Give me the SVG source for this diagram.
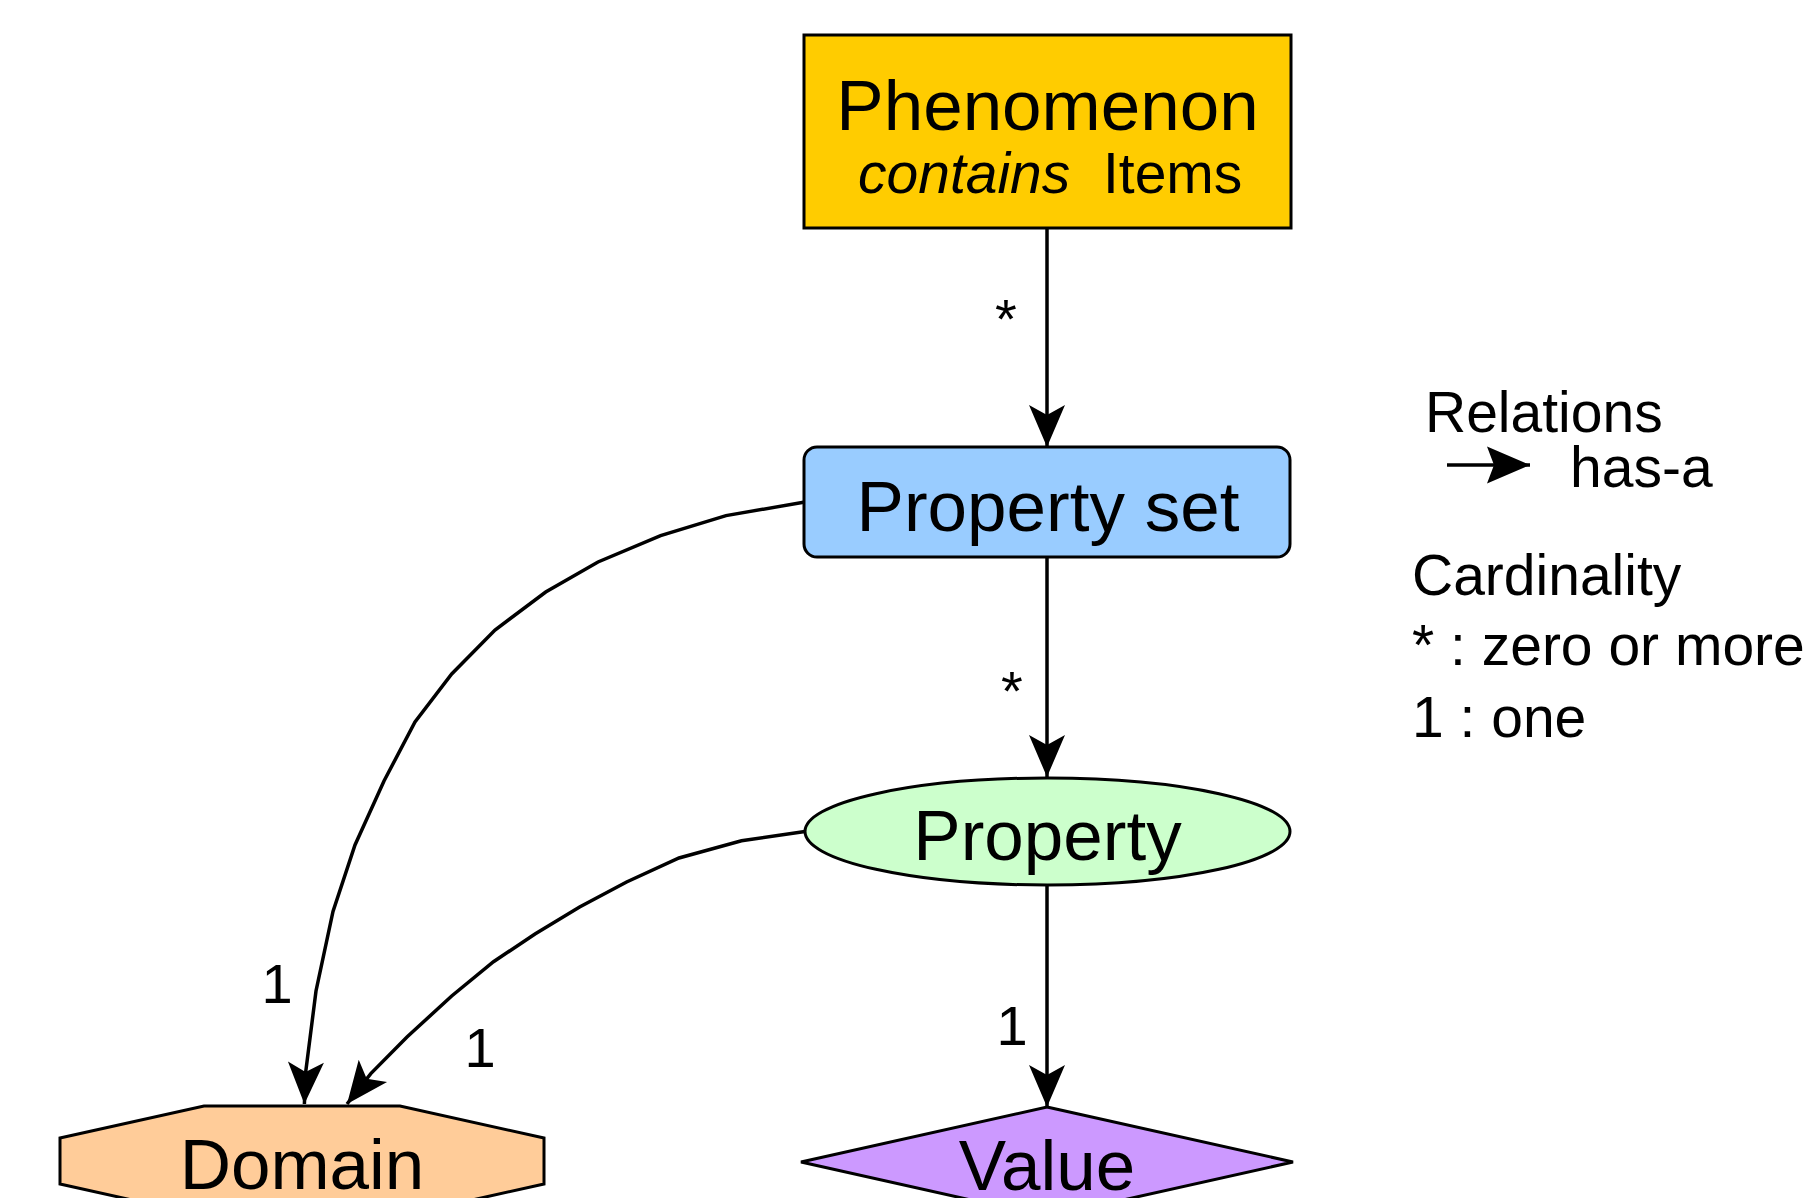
<svg xmlns="http://www.w3.org/2000/svg" width="1811" height="1198" viewBox="0 0 1811 1198">
<style>
text{font-family:"Liberation Sans",Arial,sans-serif;fill:#000}
.node{stroke:#000;stroke-width:3}
.lbl{font-size:71px;text-anchor:middle}
.card{font-size:56px;text-anchor:middle}
.leg{font-size:57px}
.edge{fill:none;stroke:#000;stroke-width:3.5;marker-end:url(#arr)}
</style>
<defs>
<marker id="arr" markerUnits="userSpaceOnUse" markerWidth="50" markerHeight="42" refX="44" refY="20" orient="auto">
<path d="M2,2 L44,20 L2,38 L12,20 Z" fill="#000"/>
</marker>
<marker id="arrl" markerUnits="userSpaceOnUse" markerWidth="50" markerHeight="42" refX="44" refY="20" orient="auto">
<path d="M1,1.5 L44,20 L1,38.5 L8,20 Z" fill="#000"/>
</marker>
</defs>
<g id="edges">
<path class="edge" d="M1047,228 V447"/>
<path class="edge" d="M1047,557 V777"/>
<path class="edge" d="M1047,885 V1107"/>
<path class="edge" d="M805,502 L726,515.6 L660.6,535.7 L598,562 L545.7,592 L495,630 L451.7,674 L415,722 L384,781 L355,845 L333,911.5 L316,991 L305.5,1073.6 L304.4,1104"/>
<path class="edge" d="M805,831.6 L741.5,840.7 L679,858 L626.6,882 L579.6,907 L535,934 L493.5,961.7 L451.7,996 L407,1037 L370.8,1073.6 L347,1104"/>
<text class="card" x="1006" y="338">*</text>
<text class="card" x="1012" y="710">*</text>
<text class="card" x="1012" y="1045">1</text>
<text class="card" x="277" y="1003">1</text>
<text class="card" x="480" y="1067">1</text>
</g>
<g id="phenomenon">
<rect class="node" x="804" y="35" width="487" height="193" fill="#FFCC00"/>
<text class="lbl" x="1047.5" y="130">Phenomenon</text>
<text style="font-size:57px;font-style:italic" x="858" y="193">contains</text>
<text style="font-size:57px" x="1103" y="193">Items</text>
</g>
<g id="property-set">
<rect class="node" x="804" y="447" width="486" height="110" rx="13" fill="#99CCFF"/>
<text class="lbl" x="1048" y="531">Property set</text>
</g>
<g id="property">
<ellipse class="node" cx="1047.5" cy="831.5" rx="242.5" ry="53.5" fill="#CCFFCC"/>
<text class="lbl" x="1047.5" y="860">Property</text>
</g>
<g id="domain">
<polygon class="node" points="204,1106 400,1106 544,1138 544,1184 400,1216 204,1216 60,1184 60,1138" fill="#FFCC99"/>
<text class="lbl" x="302" y="1189">Domain</text>
</g>
<g id="value">
<polygon class="node" points="1047,1107 1293,1162 1047,1217 801,1162" fill="#CC99FF"/>
<text class="lbl" x="1047" y="1190">Value</text>
</g>
<g id="legend">
<text class="leg" x="1425" y="432">Relations</text>
<path d="M1447,465 H1530" stroke="#000" stroke-width="3.5" fill="none" marker-end="url(#arrl)"/>
<text class="leg" x="1570" y="487">has-a</text>
<text class="leg" x="1412" y="595">Cardinality</text>
<text class="leg" x="1412" y="665">* : zero or more</text>
<text class="leg" x="1412" y="737">1 : one</text>
</g>
</svg>
